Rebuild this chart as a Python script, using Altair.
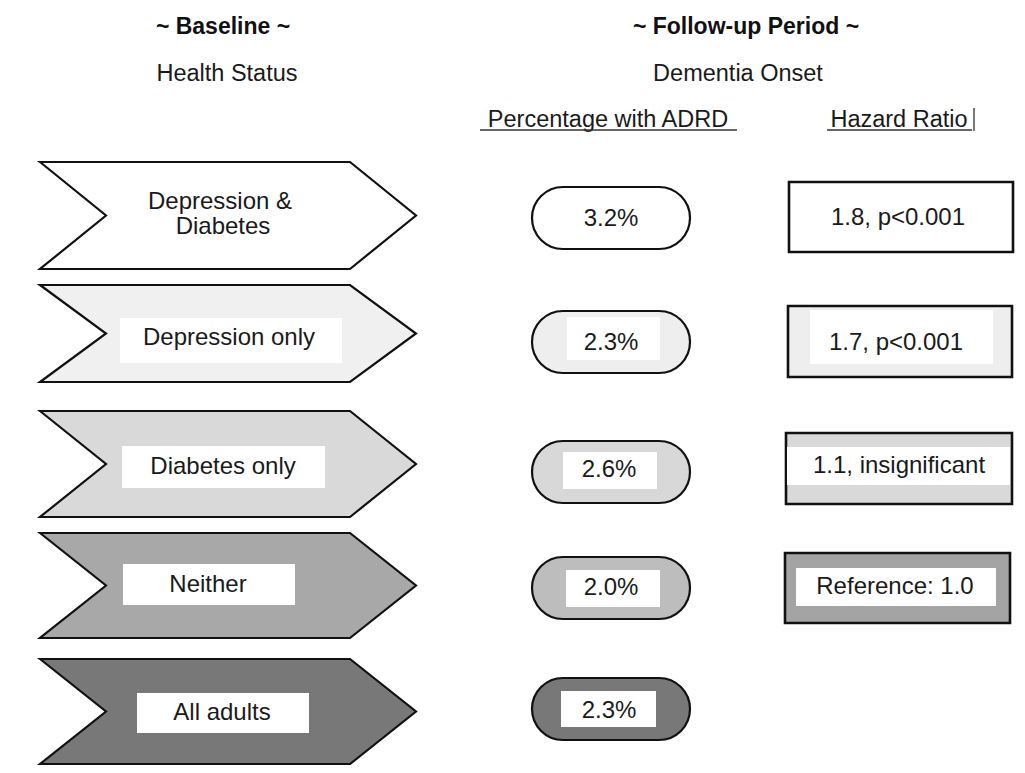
import altair as alt
import pandas as pd

# ---------------- data ----------------
groups = ["Depression & Diabetes", "Depression only", "Diabetes only", "Neither", "All adults"]
group_lines = [["Depression &", "Diabetes"], ["Depression only"], ["Diabetes only"], ["Neither"], ["All adults"]]
pct_values = [3.2, 2.3, 2.6, 2.0, 2.3]
hr_labels = ["1.8, p<0.001", "1.7, p<0.001", "1.1, insignificant", "Reference: 1.0"]

# ---------------- layout (reference pixel space) ----------------
X0, X1 = 8, 1017
Y0, Y1 = 8, 765
W, H = X1 - X0, Y1 - Y0
FONT = "Liberation Sans"

shade_chev = ["#ffffff", "#f0f0f0", "#d9d9d9", "#a8a8a8", "#787878"]
shade_pill = ["#ffffff", "#eeeeee", "#d8d8d8", "#bdbdbd", "#787878"]
shade_box = ["#ffffff", "#eeeeee", "#d9d9d9", "#a4a4a4"]

chev_rows = [(162, 269), (285, 382), (411, 517), (533, 638), (659, 764)]
chev_x = (40, 106, 350, 416)  # left, notch, body end, tip
chev_label_xy = [(220, 214), (229, 338), (223, 467), (208, 585), (222, 713)]
chev_label_box = [None, (120, 342, 318, 363), (122, 325, 446, 488), (123, 295, 564, 605), (137, 309, 693, 733)]

pill_x = (532, 690)
pill_rows = [(187, 249), (311, 373), (441, 503), (557, 619), (678, 740)]
pill_inner = [None, (567, 660, 317, 360), (563, 657, 452, 489), (566, 660, 570, 607), (561, 656, 691, 727)]
pill_text_xy = [(611, 219), (611, 343), (609, 470), (611, 588), (609, 711)]

box_rects = [(789, 1013, 182, 252), (788, 1012, 306, 377), (786, 1012, 433, 504), (785, 1010, 553, 623)]
box_inner = [None, (810, 993, 310, 364), (787, 1010, 447, 485), (796, 996, 568, 606)]
box_text_xy = [(898, 218), (896, 343), (899, 466), (895, 587)]

xs = alt.Scale(domain=[X0, X1], nice=False, zero=False)
ys = alt.Scale(domain=[Y0, Y1], nice=False, zero=False, reverse=True)


def X(f):
    return alt.X(f, type="quantitative", scale=xs, axis=None)


def Y(f):
    return alt.Y(f, type="quantitative", scale=ys, axis=None)


# chevrons (one area layer per group: left edge with notch, right edge with tip)
chevron_layers = []
for i, (t, b) in enumerate(chev_rows):
    m = (t + b) / 2
    l, n, be, tp = chev_x
    df = pd.DataFrame([
        {"row": groups[i], "y": t, "xl": l, "xr": be},
        {"row": groups[i], "y": m, "xl": n, "xr": tp},
        {"row": groups[i], "y": b, "xl": l, "xr": be},
    ])
    chevron_layers.append(
        alt.Chart(df).mark_area(
            orient="horizontal", fill=shade_chev[i], stroke="#111111",
            strokeWidth=2.2, strokeJoin="miter", interpolate="linear",
        ).encode(y=Y("y"), x=X("xl"), x2="xr")
    )

# pills
pills_df = pd.DataFrame([
    {"row": groups[i], "pct": pct_values[i], "x": pill_x[0], "x2": pill_x[1], "y": t, "y2": b, "fill": shade_pill[i]}
    for i, (t, b) in enumerate(pill_rows)
])
pills = alt.Chart(pills_df).mark_rect(cornerRadius=31, stroke="#111111", strokeWidth=2.2).encode(
    x=X("x"), x2="x2", y=Y("y"), y2="y2", fill=alt.Fill("fill:N", scale=None)
)

# hazard ratio boxes
box_df = pd.DataFrame([
    {"row": groups[i], "x": r[0], "x2": r[1], "y": r[2], "y2": r[3], "fill": shade_box[i]}
    for i, r in enumerate(box_rects)
])
boxes = alt.Chart(box_df).mark_rect(stroke="#111111", strokeWidth=2.6).encode(
    x=X("x"), x2="x2", y=Y("y"), y2="y2", fill=alt.Fill("fill:N", scale=None)
)

# white inner label boxes
inner = []
for lst in (chev_label_box, pill_inner, box_inner):
    for r in lst:
        if r is not None:
            inner.append({"x": r[0], "x2": r[1], "y": r[2], "y2": r[3]})
inner_df = pd.DataFrame(inner)
inner_boxes = alt.Chart(inner_df).mark_rect(fill="#ffffff").encode(
    x=X("x"), x2="x2", y=Y("y"), y2="y2"
)

# texts
texts = []
for i, lines in enumerate(group_lines):
    cx, cy = chev_label_xy[i]
    if len(lines) == 2:
        texts.append({"x": cx, "y": cy - 12, "t": lines[0]})
        texts.append({"x": cx + 3, "y": cy + 13, "t": lines[1]})
    else:
        texts.append({"x": cx, "y": cy, "t": lines[0]})
for i, v in enumerate(pct_values):
    texts.append({"x": pill_text_xy[i][0], "y": pill_text_xy[i][1], "t": f"{v:.1f}%"})
for i, s in enumerate(hr_labels):
    texts.append({"x": box_text_xy[i][0], "y": box_text_xy[i][1], "t": s})
texts_df = pd.DataFrame(texts)
labels = alt.Chart(texts_df).mark_text(
    font=FONT, fontSize=24, color="#1a1a1a", align="center", baseline="middle"
).encode(x=X("x"), y=Y("y"), text="t:N")

head_df = pd.DataFrame([
    {"x": 223, "y": 27, "t": "~ Baseline ~"},
    {"x": 746, "y": 27, "t": "~ Follow-up Period ~"},
])
heads = alt.Chart(head_df).mark_text(
    font=FONT, fontSize=23, fontWeight="bold", color="#111111", align="center", baseline="middle"
).encode(x=X("x"), y=Y("y"), text="t:N")

sub_df = pd.DataFrame([
    {"x": 227, "y": 74, "t": "Health Status"},
    {"x": 738, "y": 74, "t": "Dementia Onset"},
    {"x": 608, "y": 120, "t": "Percentage with ADRD"},
    {"x": 899, "y": 120, "t": "Hazard Ratio"},
])
subs = alt.Chart(sub_df).mark_text(
    font=FONT, fontSize=23.5, color="#1a1a1a", align="center", baseline="middle"
).encode(x=X("x"), y=Y("y"), text="t:N")

rule_df = pd.DataFrame([
    {"x": 480, "x2": 737, "y": 130, "y2": 130},
    {"x": 827, "x2": 972, "y": 130, "y2": 130},
    {"x": 974, "x2": 974, "y": 108, "y2": 131},
])
rules = alt.Chart(rule_df).mark_rule(color="#333333", strokeWidth=1.3).encode(
    x=X("x"), x2="x2", y=Y("y"), y2="y2"
)

chart = alt.layer(
    *chevron_layers, pills, boxes, inner_boxes, labels, heads, subs, rules
).properties(
    width=W, height=H, padding=0, autosize=alt.AutoSizeParams(type="none"),
    background="#ffffff",
).configure_view(stroke=None)

chart.save("out.html", embed_options={"renderer": "svg", "actions": False})
